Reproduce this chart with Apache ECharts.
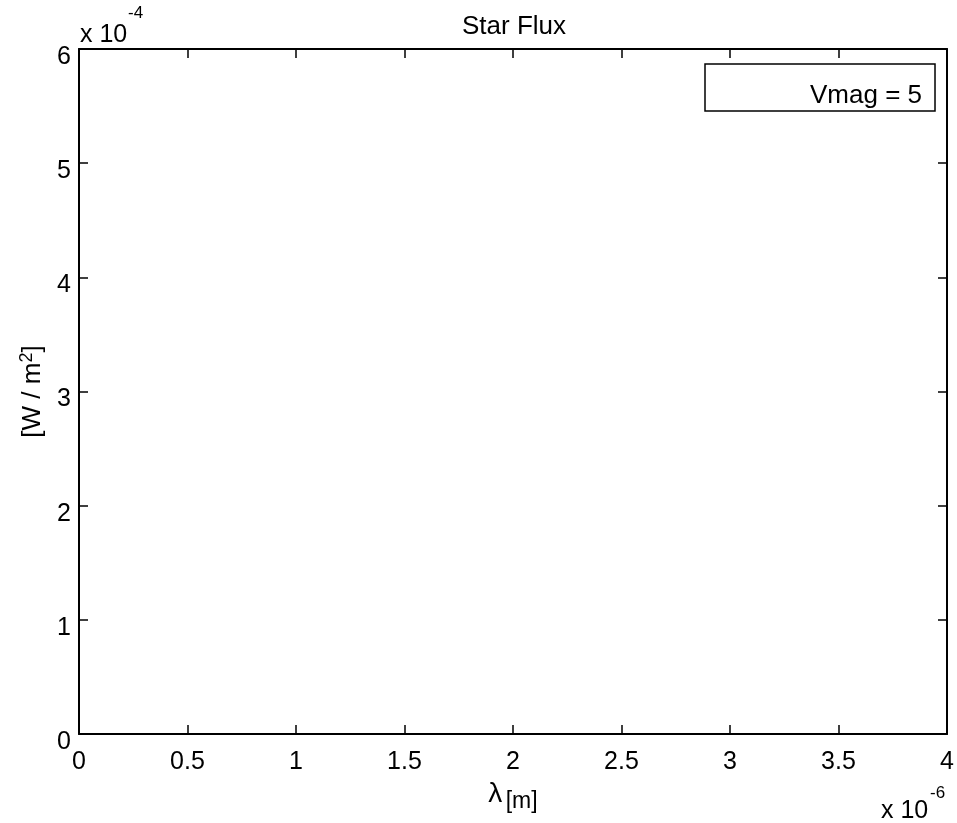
<!DOCTYPE html>
<html>
<head>
<meta charset="utf-8">
<script src="https://cdn.jsdelivr.net/npm/echarts@6/dist/echarts.min.js"></script>
<style>
html,body{margin:0;padding:0;background:#fff;}
#chart{width:957px;height:823px;}
</style>
</head>
<body>
<div id="chart"></div>
<script>
// Data (the reference plot shows no visible samples)
const wavelength = [];          // x 10^-6 m
const flux = [];                // x 10^-4 W/m^2
const seriesName = 'Vmag = 5';
const xTickValues = [0, 0.5, 1, 1.5, 2, 2.5, 3, 3.5, 4];
const yTickValues = [0, 1, 2, 3, 4, 5, 6];
const titleText = 'Star Flux';

const FONT = '"Liberation Sans", Arial, Helvetica, sans-serif';
const chart = echarts.init(document.getElementById('chart'), null, {renderer: 'canvas'});

const points = wavelength.map((x, i) => [x, flux[i]]);

const baseAxis = {
  type: 'value',
  splitLine: {show: false},
  axisLine: {show: true, onZero: false, lineStyle: {color: '#000', width: 2}},
  axisTick: {show: true, inside: true, length: 9, lineStyle: {color: '#000', width: 1.5}},
};

const option = {
  backgroundColor: '#fff',
  animation: false,
  textStyle: {fontFamily: FONT},
  title: {
    text: titleText,
    left: 509, top: 9, textAlign: 'center',
    textStyle: {fontFamily: FONT, fontSize: 26, fontWeight: 'normal', color: '#000'}
  },
  grid: {left: 79, right: 10, top: 49, bottom: 89, containLabel: false},
  legend: {
    data: [seriesName],
    left: 705, top: 64,
    orient: 'vertical',
    padding: [17, 13, 0, 10],
    itemWidth: 89, itemHeight: 20, itemGap: 0,
    borderColor: '#000', borderWidth: 1.5,
    backgroundColor: '#fff',
    selectedMode: false,
    itemStyle: {opacity: 0},
    lineStyle: {opacity: 0},
    textStyle: {fontFamily: FONT, fontSize: 26, color: '#000', lineHeight: 30}
  },
  xAxis: [
    Object.assign({}, baseAxis, {
      position: 'bottom', min: xTickValues[0], max: xTickValues[xTickValues.length - 1], interval: 0.5,
      axisLabel: {color: '#000', fontSize: 25, fontFamily: FONT, margin: 16,
        formatter: v => String(Math.round(v * 10) / 10)},
      name: '{a|λ} {b|[m]}',
      nameLocation: 'middle', nameGap: 40,
      nameTextStyle: {rich: {
        a: {fontSize: 28, fontFamily: FONT, color: '#000', verticalAlign: 'bottom'},
        b: {fontSize: 23, fontFamily: FONT, color: '#000', verticalAlign: 'bottom', padding: [0, 0, -5, 0]}
      }}
    }),
    Object.assign({}, baseAxis, {
      position: 'top', min: 0, max: 4, interval: 0.5,
      axisLabel: {show: false}
    })
  ],
  yAxis: [
    Object.assign({}, baseAxis, {
      position: 'left', min: yTickValues[0], max: yTickValues[yTickValues.length - 1], interval: 1,
      axisLabel: {color: '#000', fontSize: 25, fontFamily: FONT, margin: 8,
        verticalAlign: 'top', lineHeight: 16,
        formatter: v => String(v)},
      name: '[W / m{s|2}]',
      nameLocation: 'middle', nameGap: 28, nameRotate: 90,
      nameTextStyle: {fontSize: 26, fontFamily: FONT, color: '#000',
        rich: {s: {fontSize: 18, fontFamily: FONT, color: '#000', verticalAlign: 'bottom', padding: [0, 0, 13, 0]}}}
    }),
    Object.assign({}, baseAxis, {
      position: 'right', min: 0, max: 6, interval: 1,
      axisLabel: {show: false}
    })
  ],
  graphic: [
    {type: 'text', left: 80, top: 23, style: {text: 'x 10', fontSize: 25, fontFamily: FONT, fill: '#000'}},
    {type: 'text', left: 128, top: 5, style: {text: '-4', fontSize: 17, fontFamily: FONT, fill: '#000'}},
    {type: 'text', left: 881, top: 799, style: {text: 'x 10', fontSize: 25, fontFamily: FONT, fill: '#000'}},
    {type: 'text', left: 930, top: 785, style: {text: '-6', fontSize: 17, fontFamily: FONT, fill: '#000'}}
  ],
  series: [{
    name: seriesName,
    type: 'line',
    xAxisIndex: 0, yAxisIndex: 0,
    data: points,
    showSymbol: false,
    lineStyle: {color: '#000', width: 1}
  }]
};
chart.setOption(option);
</script>
</body>
</html>
